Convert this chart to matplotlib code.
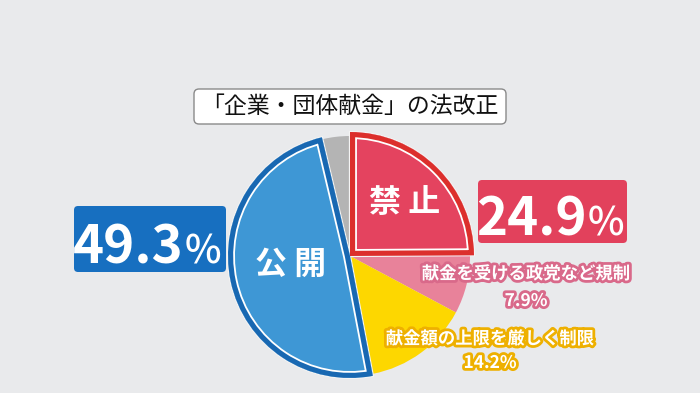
import matplotlib
matplotlib.use("Agg")
import matplotlib.pyplot as plt
import matplotlib.patheffects as pe
from matplotlib.patches import FancyBboxPatch, Wedge

plt.rcParams['font.family'] = ['Noto Sans CJK JP', 'DejaVu Sans']

# data (clockwise from 12 o'clock)
labels = ["禁止", "献金を受ける政党など規制", "献金額の上限を厳しく制限", "公開", "その他"]
shares = [24.9, 7.9, 14.2, 49.3, 3.7]
title = "「企業・団体献金」の法改正"

# colours
bg = '#e9eaec'
fills = ['#e4435f', '#e8829a', '#fdd700', '#3e97d5', '#b4b4b4']
red_edge = '#dc2f2c'
blue_edge = '#1868b2'

fig = plt.figure(figsize=(7, 3.93), dpi=100, facecolor=bg)
ax = fig.add_axes([0, 0, 1, 1])
ax.set_facecolor(bg)

H = 393
cx, cy, r = 350, H - 256, 120

wedges, _ = ax.pie(shares, colors=fills, startangle=90, counterclock=False,
                   center=(cx, cy), radius=r, wedgeprops=dict(linewidth=0))

# highlighted slices: slightly larger, outline drawn inside (coloured band + white line)
for w, ec, rad in [(wedges[0], red_edge, 124), (wedges[3], blue_edge, 122)]:
    w.set_radius(rad)
    w.set_zorder(3)
    # thin light separator around the slice
    ax.add_patch(Wedge(w.center, w.r, w.theta1, w.theta2, fill=False, ec='#f4f4f4',
                       lw=1.6, joinstyle='miter', zorder=2.9))
    for col, lw in [('white', 10), (ec, 7.4)]:
        ring = Wedge(w.center, w.r, w.theta1, w.theta2, fill=False, ec=col, lw=lw,
                     joinstyle='miter', zorder=3.5)
        ax.add_patch(ring)
        ring.set_clip_path(w)

ax.set_xlim(0, 700)
ax.set_ylim(0, H)
ax.set_aspect('equal')
ax.axis('off')

# title box
ax.add_patch(FancyBboxPatch((194, H - 124), 312, 35, boxstyle='round,pad=0,rounding_size=5',
                            fc='white', ec='#8a8a8a', lw=1, zorder=4))
ax.text(350, H - 106, title, fontsize=16.5, ha='center', va='center', color='#111111', zorder=5)

# slice names
ax.text(405, H - 203, labels[0][0] + " " + labels[0][1], fontsize=23, fontweight='bold',
        color='white', ha='center', va='center', zorder=5)
ax.text(291, H - 265, labels[3][0] + " " + labels[3][1], fontsize=23, fontweight='bold',
        color='white', ha='center', va='center', zorder=5)

# big value boxes
ax.add_patch(FancyBboxPatch((478, H - 243), 149, 63, boxstyle='round,pad=0,rounding_size=4',
                            fc='#e2415c', ec='none', zorder=4))
ax.text(587, H - 236, f"{shares[0]}", fontsize=38, fontweight='bold', color='white',
        ha='right', va='baseline', zorder=5)
ax.text(588, H - 236, "%", fontsize=28, fontweight='medium', color='white',
        ha='left', va='baseline', zorder=5)

ax.add_patch(FancyBboxPatch((74, H - 272), 152, 66, boxstyle='round,pad=0,rounding_size=4',
                            fc='#176fc0', ec='none', zorder=4))
ax.text(184, H - 263, f"{shares[3]}", fontsize=38, fontweight='bold', color='white',
        ha='right', va='baseline', zorder=5)
ax.text(185, H - 263, "%", fontsize=28, fontweight='medium', color='white',
        ha='left', va='baseline', zorder=5)

# small labels with outlined text
pink_fx = [pe.withStroke(linewidth=4, foreground='#d9698a')]
yellow_fx = [pe.withStroke(linewidth=4, foreground='#eeb000')]
ax.text(526, H - 274, labels[1], fontsize=12.5, fontweight='bold', color='white',
        ha='center', va='center', path_effects=pink_fx, zorder=5)
ax.text(526, H - 301, f"{shares[1]}%", fontsize=12.5, fontweight='bold', color='white',
        ha='center', va='center', path_effects=pink_fx, zorder=5)
ax.text(490, H - 339, labels[2], fontsize=12.5, fontweight='bold', color='white',
        ha='center', va='center', path_effects=yellow_fx, zorder=5)
ax.text(490, H - 363, f"{shares[2]}%", fontsize=12.5, fontweight='bold', color='white',
        ha='center', va='center', path_effects=yellow_fx, zorder=5)

fig.savefig("out.png", dpi=100, facecolor=bg)
